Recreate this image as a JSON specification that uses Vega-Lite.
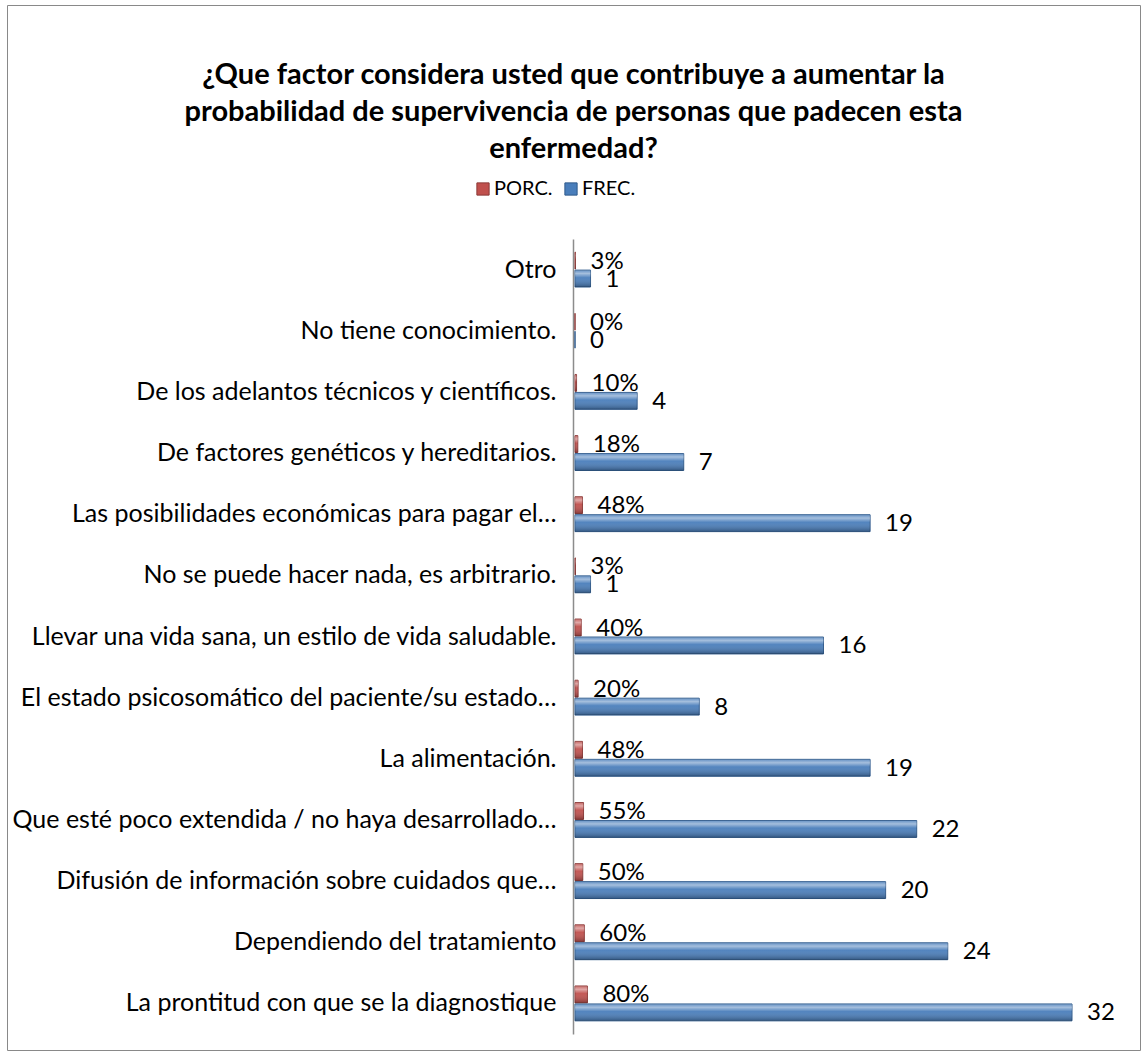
{
  "$schema": "https://vega.github.io/schema/vega-lite/v6.json",
  "width": 1133,
  "height": 1045,
  "autosize": {"type": "none"},
  "padding": {"left": 7, "top": 5, "right": 7, "bottom": 7},
  "background": "white",
  "config": {"view": {"stroke": "#898989", "strokeWidth": 1}, "font": "Lato"},
  "title": {
    "text": ["¿Que factor considera usted que contribuye a aumentar la", "probabilidad de supervivencia de personas que padecen esta", "enfermedad?"],
    "fontSize": 29,
    "font": "Lato",
    "fontWeight": "bold",
    "color": "#000000",
    "anchor": "middle",
    "frame": "group",
    "offset": -159,
    "lineHeight": 37
  },
  "data": {
    "values": [
      {"cat": "Otro", "serie": "PORC.", "val": 0.03, "lbl": "3%"},
      {"cat": "Otro", "serie": "FREC.", "val": 1, "lbl": "1"},
      {"cat": "No tiene conocimiento.", "serie": "PORC.", "val": 0, "lbl": "0%"},
      {"cat": "No tiene conocimiento.", "serie": "FREC.", "val": 0, "lbl": "0"},
      {"cat": "De los adelantos técnicos y científicos.", "serie": "PORC.", "val": 0.10, "lbl": "10%"},
      {"cat": "De los adelantos técnicos y científicos.", "serie": "FREC.", "val": 4, "lbl": "4"},
      {"cat": "De factores genéticos y hereditarios.", "serie": "PORC.", "val": 0.18, "lbl": "18%"},
      {"cat": "De factores genéticos y hereditarios.", "serie": "FREC.", "val": 7, "lbl": "7"},
      {"cat": "Las posibilidades económicas para pagar el…", "serie": "PORC.", "val": 0.48, "lbl": "48%"},
      {"cat": "Las posibilidades económicas para pagar el…", "serie": "FREC.", "val": 19, "lbl": "19"},
      {"cat": "No se puede hacer nada, es arbitrario.", "serie": "PORC.", "val": 0.03, "lbl": "3%"},
      {"cat": "No se puede hacer nada, es arbitrario.", "serie": "FREC.", "val": 1, "lbl": "1"},
      {"cat": "Llevar una vida sana, un estilo de vida saludable.", "serie": "PORC.", "val": 0.40, "lbl": "40%"},
      {"cat": "Llevar una vida sana, un estilo de vida saludable.", "serie": "FREC.", "val": 16, "lbl": "16"},
      {"cat": "El estado psicosomático del paciente/su estado…", "serie": "PORC.", "val": 0.20, "lbl": "20%"},
      {"cat": "El estado psicosomático del paciente/su estado…", "serie": "FREC.", "val": 8, "lbl": "8"},
      {"cat": "La alimentación.", "serie": "PORC.", "val": 0.48, "lbl": "48%"},
      {"cat": "La alimentación.", "serie": "FREC.", "val": 19, "lbl": "19"},
      {"cat": "Que esté poco extendida / no haya desarrollado…", "serie": "PORC.", "val": 0.55, "lbl": "55%"},
      {"cat": "Que esté poco extendida / no haya desarrollado…", "serie": "FREC.", "val": 22, "lbl": "22"},
      {"cat": "Difusión de información sobre cuidados que…", "serie": "PORC.", "val": 0.50, "lbl": "50%"},
      {"cat": "Difusión de información sobre cuidados que…", "serie": "FREC.", "val": 20, "lbl": "20"},
      {"cat": "Dependiendo del tratamiento", "serie": "PORC.", "val": 0.60, "lbl": "60%"},
      {"cat": "Dependiendo del tratamiento", "serie": "FREC.", "val": 24, "lbl": "24"},
      {"cat": "La prontitud con que se la diagnostique", "serie": "PORC.", "val": 0.80, "lbl": "80%"},
      {"cat": "La prontitud con que se la diagnostique", "serie": "FREC.", "val": 32, "lbl": "32"}
    ]
  },
  "encoding": {
    "y": {
      "field": "cat",
      "type": "nominal",
      "sort": null,
      "scale": {"range": [234, 1029], "paddingInner": 0.43, "paddingOuter": 0.215},
      "axis": {
        "orient": "left",
        "offset": -566,
        "title": null,
        "ticks": false,
        "domainColor": "#8c8c8c",
        "domainWidth": 1.5,
        "labelFontSize": 25,
        "labelColor": "#000000",
        "labelPadding": 17,
        "labelLimit": 700,
        "labelFont": "Lato"
      }
    },
    "yOffset": {"field": "serie", "type": "nominal", "sort": ["PORC.", "FREC."], "scale": {"paddingInner": 0.06}},
    "x": {
      "field": "val",
      "type": "quantitative",
      "scale": {"domain": [0, 32], "range": [568, 1065], "nice": false, "zero": true},
      "axis": null
    }
  },
  "layer": [
    {
      "mark": {"type": "bar", "strokeWidth": 1},
      "encoding": {
        "color": {
          "field": "serie",
          "type": "nominal",
          "scale": {"domain": ["PORC.", "FREC."], "range": ["#C0504D", "#4A7EBB"]},
          "legend": {
            "orient": "none",
            "legendX": 466,
            "legendY": 174,
            "direction": "horizontal",
            "title": null,
            "symbolType": "square",
            "symbolSize": 150,
            "symbolStrokeWidth": 1,
            "labelFontSize": 20,
            "labelColor": "#000000",
            "labelOffset": 1,
            "columnPadding": 8,
            "labelFont": "Lato"
          }
        },
        "stroke": {
          "field": "serie",
          "type": "nominal",
          "scale": {"domain": ["PORC.", "FREC."], "range": ["#8C3836", "#2F5A8C"]},
          "legend": null
        }
      }
    },
    {
      "mark": {
        "type": "bar",
        "color": {
          "gradient": "linear",
          "x1": 0, "y1": 0, "x2": 0, "y2": 1,
          "stops": [
            {"offset": 0, "color": "rgba(255,255,255,0.15)"},
            {"offset": 0.2, "color": "rgba(255,255,255,0.5)"},
            {"offset": 0.45, "color": "rgba(255,255,255,0.05)"},
            {"offset": 1, "color": "rgba(0,0,0,0.3)"}
          ]
        }
      },
      "encoding": {}
    },
    {
      "mark": {"type": "text", "align": "left", "baseline": "middle", "dx": 15, "dy": 1, "fontSize": 24, "color": "#000000", "font": "Lato"},
      "encoding": {"text": {"field": "lbl", "type": "nominal"}}
    }
  ]
}
